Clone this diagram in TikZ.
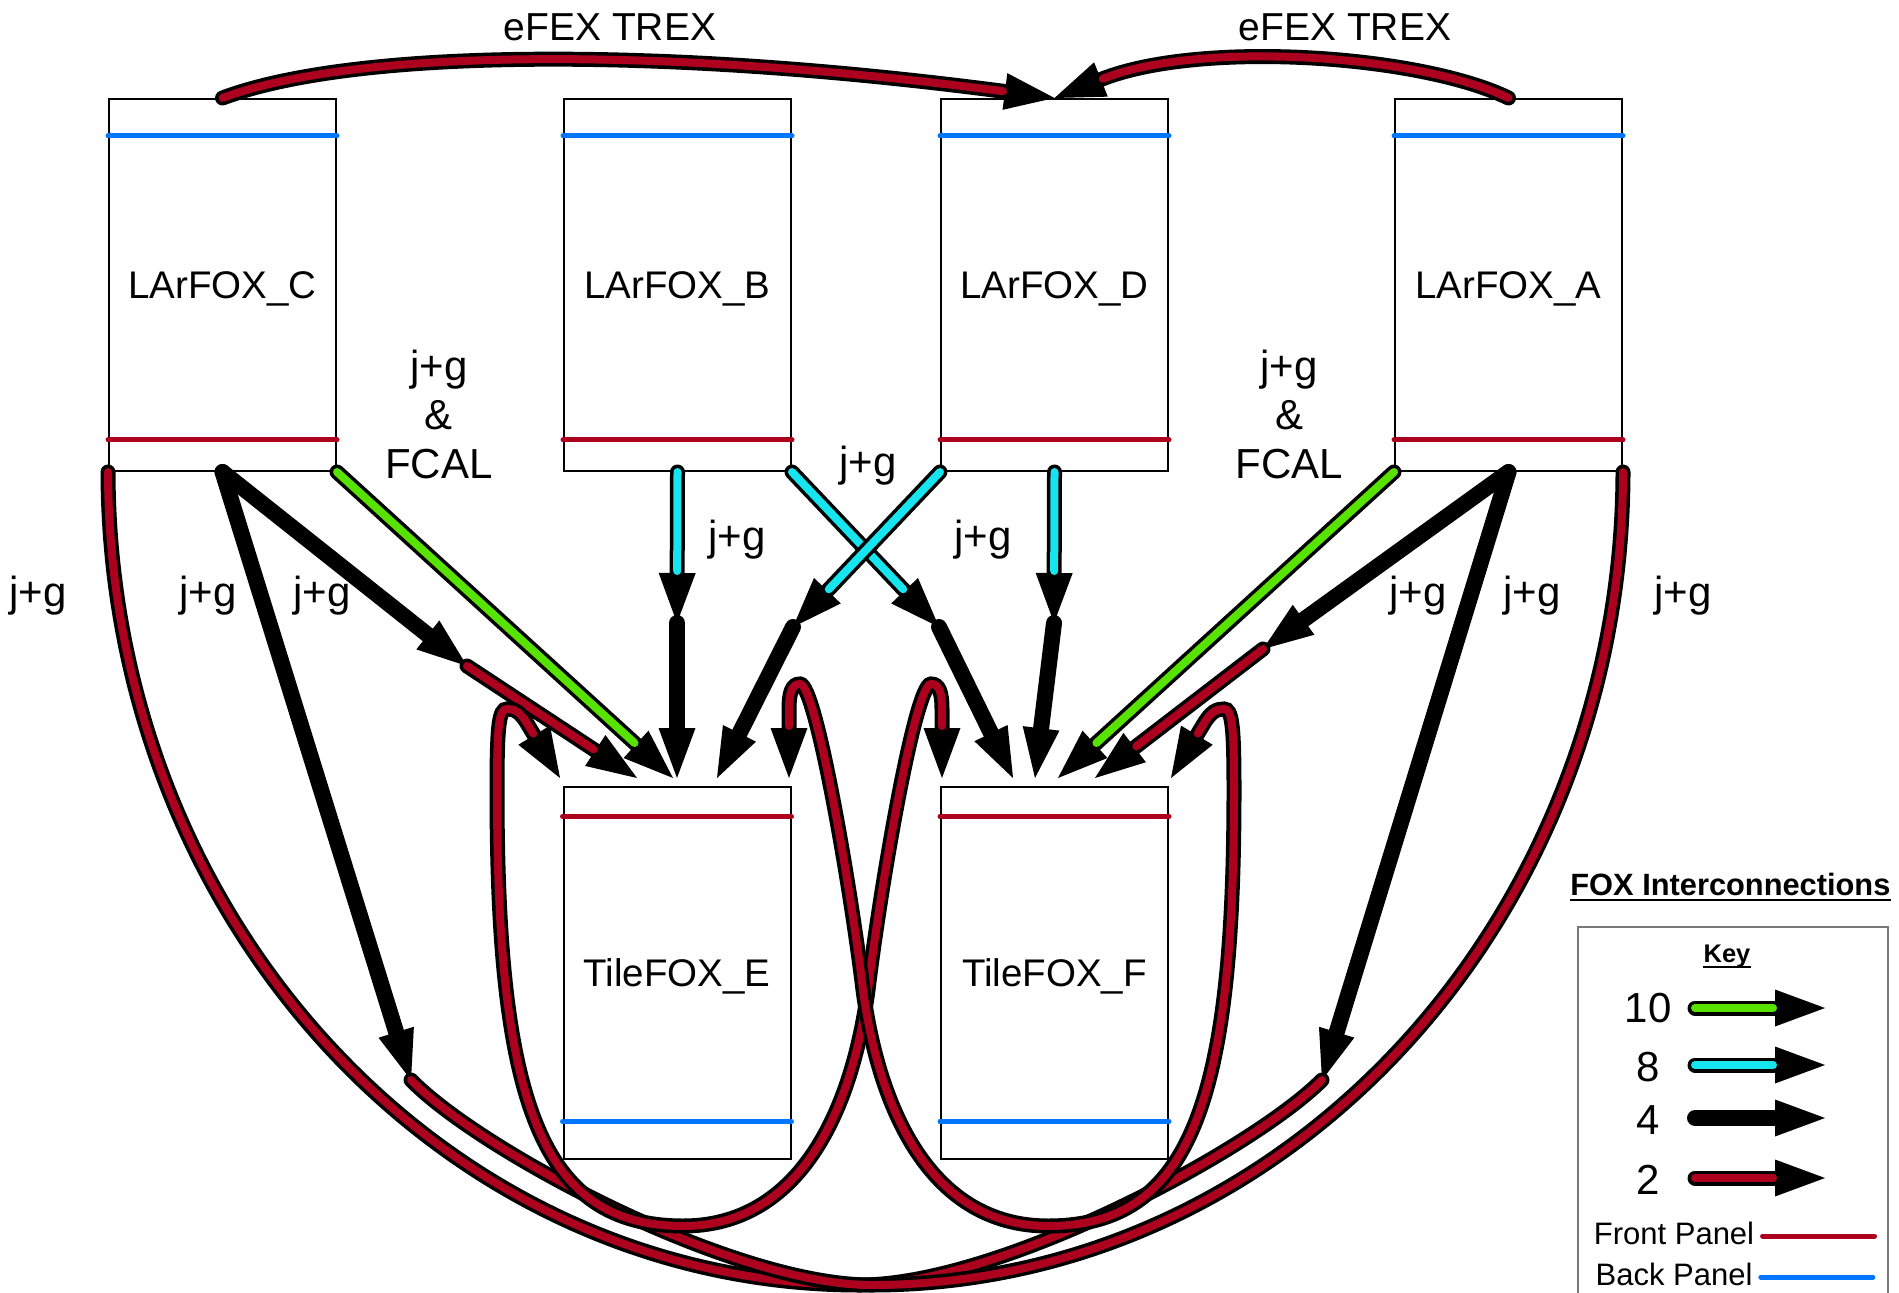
\documentclass[tikz,border=0pt]{standalone}
\usepackage{fontspec}
\setmainfont{Liberation Sans}
\usepackage{tikz}
\usetikzlibrary{arrows.meta}

\definecolor{frontred}{RGB}{172,0,30}
\definecolor{backblue}{RGB}{0,118,255}
\definecolor{linkgreen}{RGB}{88,226,0}
\definecolor{linkcyan}{RGB}{22,228,238}
\definecolor{keygray}{RGB}{120,120,120}

\tikzset{
  foxbox/.style={draw, line width=1pt, minimum width=113.5pt, minimum height=186pt,
    inner sep=0pt, text depth=0pt, font=\fontsize{19.25}{23}\selectfont},
  panelfront/.style={draw=frontred, line width=2.5pt, line cap=round},
  panelback/.style={draw=backblue, line width=2.5pt, line cap=round},
  fibre/.style={line width=7.5pt, line cap=round, postaction={draw=#1, line width=4pt, -}},
  fibreto/.style={line width=7.5pt, line cap=round,
    -{Triangle[length=25pt, width=18.5pt, line width=0pt]},
    postaction={draw=#1, line width=4pt, -, shorten >=26pt}},
  fibreboth/.style={line width=7.5pt, line cap=round,
    {Triangle[length=25pt, width=18.5pt, line width=0pt]}-{Triangle[length=25pt, width=18.5pt, line width=0pt]},
    postaction={draw=#1, line width=4pt, -, shorten >=26pt, shorten <=26pt}},
  bundle/.style={line width=8pt, line cap=round,
    -{Triangle[length=25pt, width=18.5pt, line width=0pt]}},
  linklabel/.style={font=\fontsize{21}{24.5}\selectfont, align=center, inner sep=0pt},
  keynum/.style={font=\fontsize{21}{24}\selectfont, inner sep=0pt},
  keytext/.style={font=\fontsize{15.5}{18}\selectfont, inner sep=0pt},
}

\begin{document}
\begin{tikzpicture}[x=0.5pt, y=-0.5pt]
  \useasboundingbox (0,0) rectangle (1899,1293);

  % LArFOX boxes
  \node[foxbox] (C) at (222.5,285) {LArFOX\_C};
  \node[foxbox] (B) at (677.5,285) {LArFOX\_B};
  \node[foxbox] (D) at (1054.5,285) {LArFOX\_D};
  \node[foxbox] (A) at (1508.5,285) {LArFOX\_A};

  % TileFOX boxes
  \node[foxbox] (E) at (677,972.5) {TileFOX\_E};
  \node[foxbox] (F) at (1054.5,972.5) {TileFOX\_F};

  % back panel and front panel of each box
  \draw[panelback] ([yshift=-19pt]C.north west) -- ([yshift=-19pt]C.north east);
  \draw[panelback] ([yshift=-19pt]B.north west) -- ([yshift=-19pt]B.north east);
  \draw[panelback] ([yshift=-19pt]D.north west) -- ([yshift=-19pt]D.north east);
  \draw[panelback] ([yshift=-19pt]A.north west) -- ([yshift=-19pt]A.north east);
  \draw[panelfront] ([yshift=16pt]C.south west) -- ([yshift=16pt]C.south east);
  \draw[panelfront] ([yshift=16pt]B.south west) -- ([yshift=16pt]B.south east);
  \draw[panelfront] ([yshift=16pt]D.south west) -- ([yshift=16pt]D.south east);
  \draw[panelfront] ([yshift=16pt]A.south west) -- ([yshift=16pt]A.south east);
  \draw[panelfront] ([yshift=-15.5pt]E.north west) -- ([yshift=-15.5pt]E.north east);
  \draw[panelfront] ([yshift=-15.5pt]F.north west) -- ([yshift=-15.5pt]F.north east);
  \draw[panelback] ([yshift=19pt]E.south west) -- ([yshift=19pt]E.south east);
  \draw[panelback] ([yshift=19pt]F.south west) -- ([yshift=19pt]F.south east);

  % points where a fibre bundle changes
  \coordinate (iCE) at (467,666);
  \coordinate (iC2) at (411,1080);
  \coordinate (iBE) at (677,623);
  \coordinate (iBF) at (939,627);
  \coordinate (iDE) at (793,627);
  \coordinate (iDF) at (1054,623);
  \coordinate (iAF) at (1263,649);
  \coordinate (iA2) at (1322,1080);

  % arrow ends above the TileFOX boxes
  \coordinate (eL) at (560,778);
  \coordinate (eR) at (637,778);
  \coordinate (eG) at (673,778);
  \coordinate (eB) at (677,778);
  \coordinate (eD) at (717,778);
  \coordinate (eRt) at (789,778);
  \coordinate (fL) at (942,778);
  \coordinate (fB) at (1013,778);
  \coordinate (fD) at (1035,778);
  \coordinate (fG) at (1058,778);
  \coordinate (fR) at (1095,778);
  \coordinate (fRt) at (1171,778);

  % eFEX TREX
  \draw[fibreto=frontred] (C.north) .. controls (350,50) and (650,45) .. (D.north);
  \draw[fibreto=frontred] (A.north) .. controls (1420,55) and (1200,40) .. (D.north);

  % 10 fibres
  \draw[fibreto=linkgreen] (C.south east) -- (eG);
  \draw[fibreto=linkgreen] (A.south west) -- (fG);

  % 8 fibres
  \draw[fibreto=linkcyan] (B.south) -- (iBE);
  \draw[fibreto=linkcyan] (B.south east) -- (iBF);
  \draw[fibreto=linkcyan] (D.south west) -- (iDE);
  \draw[fibreto=linkcyan] (D.south) -- (iDF);

  % 4 fibres
  \draw[bundle] (C.south) -- (iCE);
  \draw[bundle] (C.south) -- (iC2);
  \draw[bundle] (A.south) -- (iAF);
  \draw[bundle] (A.south) -- (iA2);
  \draw[bundle] (iBE) -- (eB);
  \draw[bundle] (iBF) -- (fB);
  \draw[bundle] (iDE) -- (eD);
  \draw[bundle] (iDF) -- (fD);

  % 2 fibres
  \draw[fibreto=frontred] (iCE) -- (eR);
  \draw[fibreto=frontred] (iAF) -- (fR);
  \draw[fibre=frontred] (C.south west) .. controls (109,920) and (445,1285) .. (860,1285)
    .. controls (1000,1285) and (1252,1150) .. (iA2);
  \draw[fibre=frontred] (iC2) .. controls (479,1150) and (731,1285) .. (871,1285)
    .. controls (1286,1285) and (1622,920) .. (A.south east);
  \draw[fibreboth=frontred] (eL) -- (528,725) .. controls (520,711) and (514,709) .. (507,709)
    .. controls (499,709) and (497,725) .. (497,790)
    .. controls (497,1100) and (540,1226) .. (683,1226)
    .. controls (800,1226) and (852,1110) .. (868,990)
    .. controls (880,890) and (915,684) .. (931,684)
    .. controls (939,684) and (942,692) .. (942,710) -- (fL);
  \draw[fibreboth=frontred] (fRt) -- (1203,725) .. controls (1211,711) and (1217,709) .. (1224,709)
    .. controls (1232,709) and (1234,725) .. (1234,790)
    .. controls (1234,1100) and (1191,1226) .. (1048,1226)
    .. controls (931,1226) and (879,1110) .. (863,990)
    .. controls (851,890) and (816,684) .. (800,684)
    .. controls (792,684) and (789,692) .. (789,710) -- (eRt);

  % labels
  \node[font=\fontsize{19.5}{23}\selectfont, inner sep=0pt] (trexL) at (610,27) {eFEX TREX};
  \node[font=\fontsize{19.5}{23}\selectfont, inner sep=0pt] (trexR) at (1345,27) {eFEX TREX};
  \node[linklabel] (fcalL) at (439,414) {j+g\\\&\\FCAL};
  \node[linklabel] (fcalR) at (1289,414) {j+g\\\&\\FCAL};
  \node[linklabel] (jg1) at (38,596) {j+g};
  \node[linklabel] (jg2) at (208,596) {j+g};
  \node[linklabel] (jg3) at (322,596) {j+g};
  \node[linklabel] (jg4) at (868,466) {j+g};
  \node[linklabel] (jg5) at (737,540) {j+g};
  \node[linklabel] (jg6) at (983,540) {j+g};
  \node[linklabel] (jg7) at (1418,596) {j+g};
  \node[linklabel] (jg8) at (1532,596) {j+g};
  \node[linklabel] (jg9) at (1683,596) {j+g};

  % key
  \node[font=\bfseries\fontsize{15.4}{19}\selectfont, anchor=base west, inner sep=0pt] (title) at (1570,895) {FOX Interconnections};
  \draw[line width=1.25pt] ([yshift=-2.5pt]title.base west) -- ([yshift=-2.5pt]title.base east);
  \draw[keygray, line width=1pt] (1578,927) rectangle (1888,1320);
  \node[font=\bfseries\fontsize{12.75}{15}\selectfont, anchor=base, inner sep=0pt] (key) at (1727,962) {Key};
  \draw[line width=1pt] ([yshift=-2.5pt]key.base west) -- ([yshift=-2.5pt]key.base east);

  \node[keynum] (n10) at (1648,1008) {10};
  \node[keynum] (n8) at (1648,1067) {8};
  \node[keynum] (n4) at (1648,1120) {4};
  \node[keynum] (n2) at (1648,1180) {2};
  \coordinate (k10a) at (1695,1008);
  \coordinate (k10b) at (1825,1008);
  \coordinate (k8a) at (1695,1065);
  \coordinate (k8b) at (1825,1065);
  \coordinate (k4a) at (1695,1118);
  \coordinate (k4b) at (1825,1118);
  \coordinate (k2a) at (1695,1178);
  \coordinate (k2b) at (1825,1178);
  \draw[fibreto=linkgreen] (k10a) -- (k10b);
  \draw[fibreto=linkcyan] (k8a) -- (k8b);
  \draw[bundle] (k4a) -- (k4b);
  \draw[fibreto=frontred] (k2a) -- (k2b);

  \node[keytext] (front) at (1674,1233) {Front Panel};
  \node[keytext] (back) at (1674,1274) {Back Panel};
  \draw[panelfront] ([xshift=4pt, yshift=-1.5pt]front.east) -- ++(112,0);
  \draw[panelback] ([xshift=4pt, yshift=-1.5pt]back.east) -- ++(112,0);
\end{tikzpicture}
\end{document}
